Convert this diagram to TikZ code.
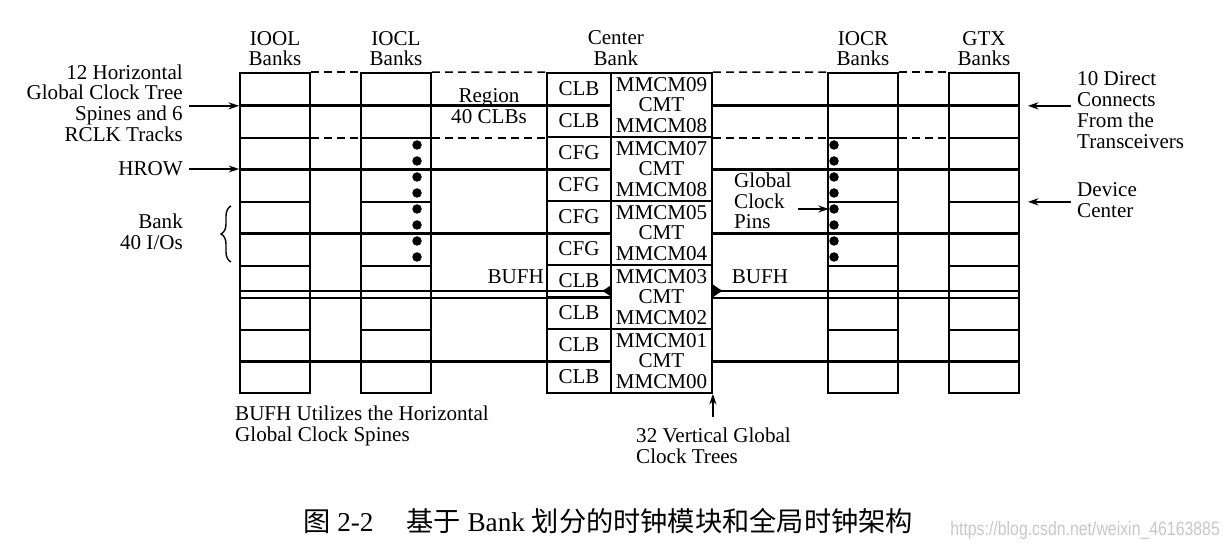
\documentclass[tikz,border=0pt]{standalone}
\usepackage{fontspec}
\setmainfont{Liberation Serif}
\setsansfont{Liberation Sans}
\newfontfamily\cjk{Noto Sans CJK SC}
\usetikzlibrary{positioning, arrows.meta, calc, decorations.pathreplacing}

\begin{document}
\begin{tikzpicture}[
        x=0.02cm, y=-0.02cm,
        font=\fontsize{12}{11.8}\selectfont,
        bank/.style={rectangle, draw=black, line width=1pt, minimum width=1.4cm, minimum height=6.4cm, inner sep=0pt},
        clbcell/.style={rectangle, draw=black, line width=1pt, minimum width=1.28cm, minimum height=0.64cm, inner sep=0pt},
        cmtcell/.style={rectangle, draw=black, line width=1pt, minimum width=2.02cm, minimum height=1.28cm, inner sep=0pt, align=center},
        pin/.style={circle, fill=black, inner sep=0pt, minimum size=0.19cm},
        head/.style={align=center},
        note/.style={align=left},
        spine/.style={line width=1.7pt},
        rowline/.style={line width=1pt},
        track/.style={dashed, dash pattern=on 4.5pt off 3pt, line width=0.8pt},
        arrow/.style={-{Stealth[length=6pt, width=4pt]}, line width=0.8pt},
        buffer/.style={{Latex[reversed, length=6pt, width=8pt]}-, line width=1.2pt}
    ]
    \useasboundingbox (0,0) rectangle (1224,553);

    % IO banks on both sides
    \node[bank] (iool) at (275,233) {};
    \node[bank] (iocl) at (396,233) {};
    \node[bank] (iocr) at (863,233) {};
    \node[bank] (gtx) at (984,233) {};

    % Center bank: CLB/CFG column and CMT column
    \foreach \t [count=\i] in {CLB,CLB,CFG,CFG,CFG,CFG,CLB,CLB,CLB,CLB}
        \node[clbcell] (clb\i) at (579,{57+32*\i}) {\t};
    \foreach \a/\b [count=\i] in {09/08,07/08,05/04,03/02,01/00}
        \node[cmtcell] (cmt\i) at (661.5,{41+64*\i}) {MMCM\a\\CMT\\MMCM\b};

    % Bank titles
    \node[head, above=0pt of iool] (ioolh) {IOOL\\Banks};
    \node[head, above=0pt of iocl] (ioclh) {IOCL\\Banks};
    \node[head, above=0pt of clb1.north east, xshift=0.08cm] (centerh) {Center\\Bank};
    \node[head, above=0pt of iocr] (iocrh) {IOCR\\Banks};
    \node[head, above=0pt of gtx] (gtxh) {GTX\\Banks};

    % Region borders (dashed)
    \foreach \p/\q in {iool/iocl, iocl/clb1, cmt1/iocr, iocr/gtx} {
        \draw[track] (\p.north east) -- (\q.north west);
        \draw[track] (\p.east |- clb2.south) -- (\q.west |- clb2.south);
    }

    % Rows inside the IO banks
    \foreach \b in {iool, iocl, iocr, gtx}
        \foreach \k in {2,4,6,8}
            \draw[rowline] (\b.west |- clb\k.south) -- (\b.east |- clb\k.south);

    % Horizontal clock spines
    \foreach \k in {1,3,5,9} {
        \draw[spine] (iool.west |- clb\k.south) -- (clb\k.south east);
        \draw[spine] (cmt1.east |- clb\k.south) -- (gtx.east |- clb\k.south);
    }

    % BUFH double spine
    \draw[rowline, line width=1.3pt] (iool.west |- clb7.south) -- (clb7.south east);
    \draw[buffer] ($(clb7.south east)+(0,-7)$) -- ($(iool.west |- clb7.south)+(0,-7)$);
    \draw[rowline, line width=1.3pt] (cmt4.east |- clb7.south) -- (gtx.east |- clb7.south);
    \draw[buffer] ($(cmt4.east |- clb7.south)+(0,-7)$) -- ($(gtx.east |- clb7.south)+(0,-7)$);

    % Global clock pins
    \foreach \j in {1,...,8} {
        \node[pin] (pl\j) at (417,{129+16*\j}) {};
        \node[pin] (pr\j) at (834,{129+16*\j}) {};
    }

    % Labels
    \node[align=right, anchor=east] (hspine) at (189,103) {12 Horizontal\\Global Clock Tree\\Spines and 6\\RCLK Tracks};
    \node[anchor=east] (hrow) at (189,169) {HROW};
    \node[align=right, anchor=east] (bankio) at (189,232) {Bank\\40 I/Os};
    \draw[decorate, decoration={brace, amplitude=0.2cm}, line width=0.8pt] (231,262) -- (231,206);
    \node[head] (region) at ($(iocl.east |- clb1.south)!0.5!(clb1.south west)$) {Region\\40 CLBs};
    \node[anchor=east, inner sep=1pt] (bufhl) at (546,277) {BUFH};
    \node (bufhr) at (760,277) {BUFH};
    \node[note, anchor=west] (gcpins) at (728,201) {Global\\Clock\\Pins};
    \node[note, anchor=west] (direct) at (1071,110) {10 Direct\\Connects\\From the\\Transceivers};
    \node[note, anchor=west] (devc) at (1071,200) {Device\\Center};
    \node[note, anchor=west] (bufhnote) at (229,426) {BUFH Utilizes the Horizontal\\Global Clock Spines};
    \node[note, anchor=west] (vtree) at (630,446) {32 Vertical Global\\Clock Trees};

    % Pointers
    \draw[arrow] (hspine.east |- clb1.south) -- (iool.west |- clb1.south);
    \draw[arrow] (hrow.east) -- (iool.west |- hrow.east);
    \draw[arrow, shorten >=0.16cm] (direct.west |- clb1.south) -- (gtx.east |- clb1.south);
    \draw[arrow, shorten >=0.16cm] (devc.west |- clb4.south) -- (gtx.east |- clb4.south);
    \draw[arrow] (gcpins.east |- pr5) -- (pr5.west);
    \draw[arrow, shorten <=0.1cm] (vtree.north -| cmt5.south east) -- (cmt5.south east);

    % Caption
    \node[anchor=west, font=\fontsize{15.5}{15.5}\selectfont] (caption) at (297,521) {{\cjk 图}~2-2\hspace{1.2em}{\cjk 基于}~Bank~{\cjk 划分的时钟模块和全局时钟架构}};
    \node[anchor=east, inner sep=1pt, text=black!22, font=\sffamily\fontsize{11}{11}\selectfont] (mark) at (1222,531) {\scalebox{0.82}[1]{https://blog.csdn.net/weixin\_46163885}};

\end{tikzpicture}
\end{document}
